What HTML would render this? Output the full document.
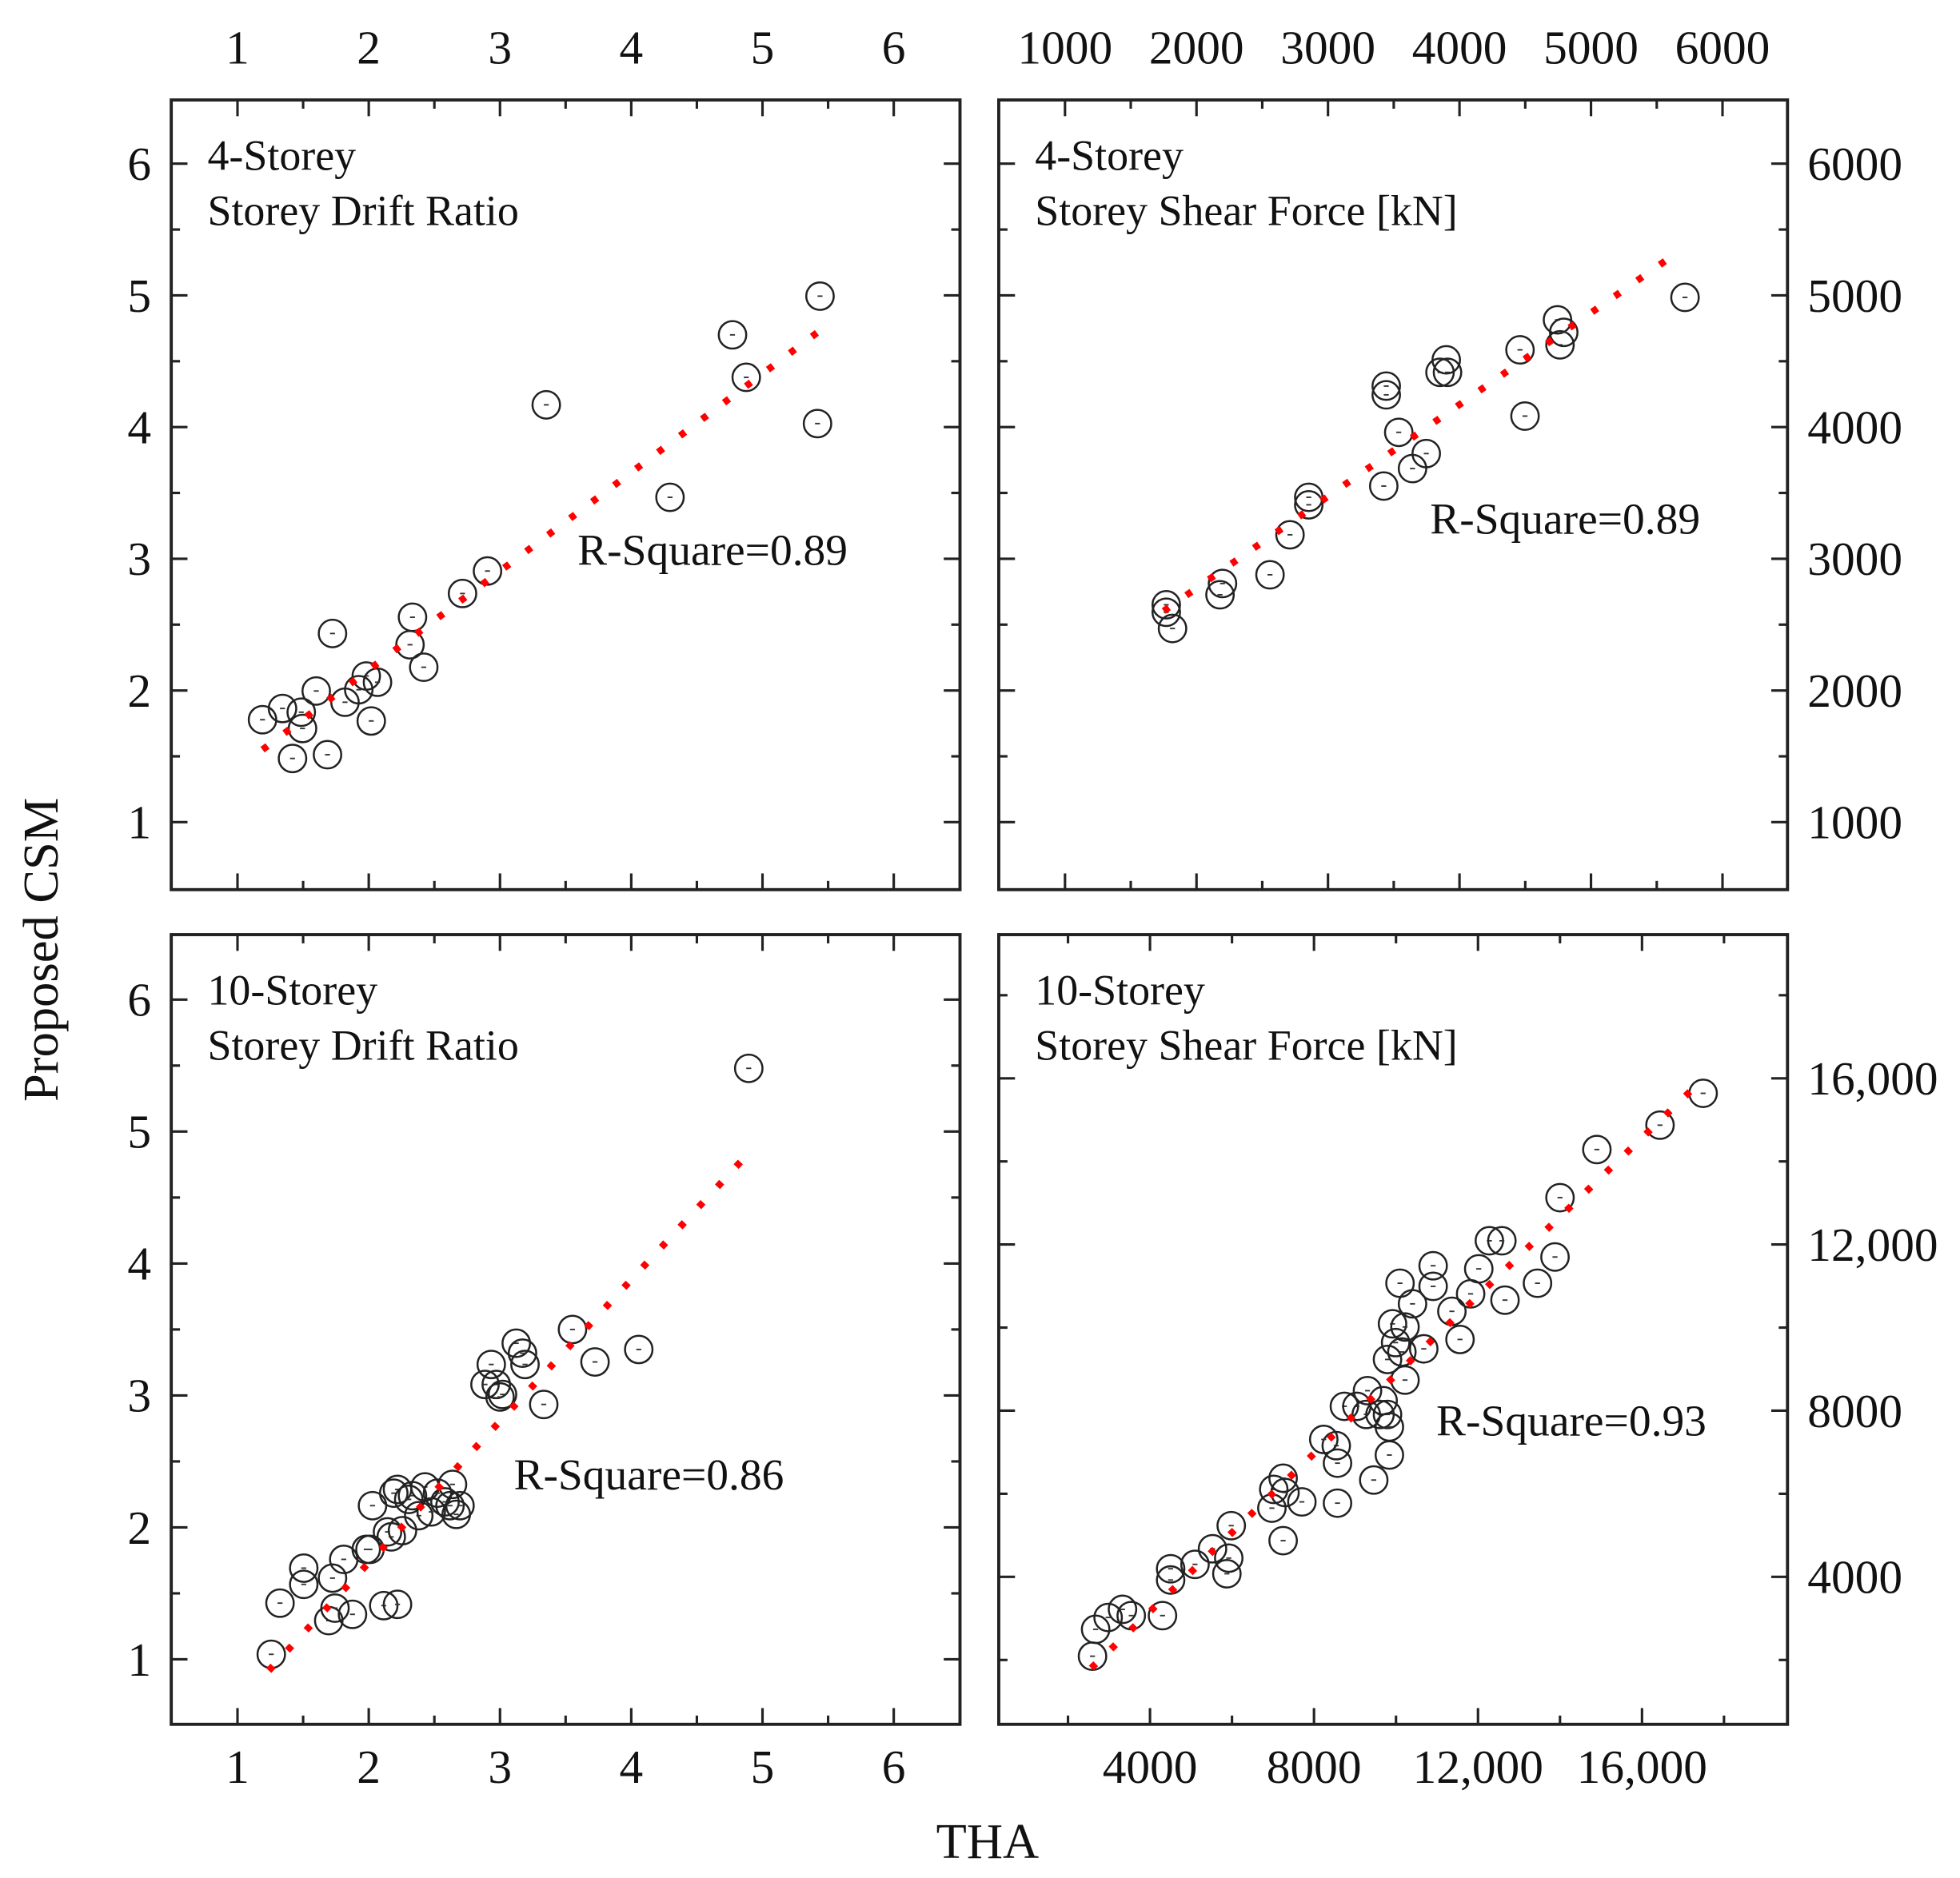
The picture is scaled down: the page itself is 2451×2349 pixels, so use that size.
<!DOCTYPE html>
<html><head><meta charset="utf-8"><style>
html,body{margin:0;padding:0;background:#fff;}
svg{display:block;}
text{font-family:"Liberation Serif",serif;fill:#111;}
</style></head><body>
<svg id="s" width="2451" height="2349" viewBox="0 0 1568 1503" preserveAspectRatio="none" xmlns="http://www.w3.org/2000/svg">
<g id="g"></g>
<text x="790" y="1487" font-size="40" text-anchor="middle">THA</text>
<text transform="translate(46,760) rotate(-90)" font-size="40" text-anchor="middle">Proposed CSM</text>
<text x="166" y="136" font-size="34.5">4-Storey</text>
<text x="166" y="180" font-size="34.5">Storey Drift Ratio</text>
<text x="462" y="452" font-size="35.5">R-Square=0.89</text>
<text x="828" y="136" font-size="34.5">4-Storey</text>
<text x="828" y="180" font-size="34.5">Storey Shear Force [kN]</text>
<text x="1144" y="427" font-size="35.5">R-Square=0.89</text>
<text x="166" y="804" font-size="34.5">10-Storey</text>
<text x="166" y="848" font-size="34.5">Storey Drift Ratio</text>
<text x="411" y="1192" font-size="35.5">R-Square=0.86</text>
<text x="828" y="804" font-size="34.5">10-Storey</text>
<text x="828" y="848" font-size="34.5">Storey Shear Force [kN]</text>
<text x="1149" y="1149" font-size="35.5">R-Square=0.93</text>
</svg>
<script>
var g=document.getElementById('g'),h='';
function L(x1,y1,x2,y2,c,w){h+='<line x1="'+x1+'" y1="'+y1+'" x2="'+x2+'" y2="'+y2+'" stroke="'+(c||'#222')+'" stroke-width="'+(w||2)+'"/>';}
function T(x,y,s,a){h+='<text x="'+x+'" y="'+y+'" font-size="38" text-anchor="'+(a||'middle')+'">'+s+'</text>';}
function panel(x0,x1,y0,y1,xt,yt,opt){
 h+='<rect x="'+x0+'" y="'+y0+'" width="'+(x1-x0)+'" height="'+(y1-y0)+'" fill="none" stroke="#222" stroke-width="2.5"/>';
 xt.forEach(function(t){var len=t[1]?13:7;L(t[0],y0,t[0],y0+len);L(t[0],y1,t[0],y1-len);
  if(t[2]){ if(opt.xtop)T(t[0],y0-29,t[2]); if(opt.xbot)T(t[0],y1+47,t[2]);}});
 yt.forEach(function(t){var len=t[1]?13:7;L(x0,t[0],x0+len,t[0]);L(x1,t[0],x1-len,t[0]);
  if(t[2]){ if(opt.yl)T(x0-16,t[0]+13,t[2],'end'); if(opt.yr)T(x1+16,t[0]+13,t[2],'start');}});
}
var xt=[],yt=[];
for(var v=1;v<=6.01;v+=0.5){var m=Math.abs(v-Math.round(v))<0.01;xt.push([190+(v-1)*105,m,m?String(v):'']);yt.push([658-(v-1)*105.4,m,m?String(v):'']);}
panel(137,768,80,712,xt,yt,{xtop:1,yl:1});
xt=[];yt=[];for(var v=1;v<=6.01;v+=0.5){var m=Math.abs(v-Math.round(v))<0.01;xt.push([852+(v-1)*105.2,m,m?String(v*1000):'']);yt.push([658-(v-1)*105.4,m,m?String(v*1000):'']);}
panel(799,1430,80,712,xt,yt,{xtop:1,yr:1});
xt=[];yt=[];for(var v=1;v<=6.01;v+=0.5){var m=Math.abs(v-Math.round(v))<0.01;xt.push([190+(v-1)*105,m,m?String(v):'']);yt.push([1328-(v-1)*105.6,m,m?String(v):'']);}
panel(137,768,748,1380,xt,yt,{xbot:1,yl:1});
xt=[];yt=[];var labs={4000:'4000',8000:'8000',12000:'12,000',16000:'16,000'};
for(var v=2000;v<=18000;v+=2000){xt.push([920+(v-4000)*0.0328,!!labs[v],labs[v]||'']);yt.push([1262-(v-4000)*0.03325,!!labs[v],labs[v]||'']);}
panel(799,1430,748,1380,xt,yt,{xbot:1,yr:1});
function C(p){p.forEach(function(q){h+='<circle cx="'+q[0]+'" cy="'+q[1]+'" r="11" fill="none" stroke="#222" stroke-width="1.6"/>';L(q[0]-2,q[1],q[0]+2,q[1],'#333',1.2);});}
function R(x1,y1,x2,y2){h+='<line x1="'+x1+'" y1="'+y1+'" x2="'+x2+'" y2="'+y2+'" stroke="#f00" stroke-width="5.5" stroke-dasharray="5 17"/>';}
C([[210,576],[226,567],[241,570],[242,583],[234,607],[262,604],[253,553],[266,507],[276,562],[287,552],[293,541],[302,546],[297,577],[330,494],[328,516],[339,534],[370,475],[390,457],[437,324],[536,398],[586,268],[597,302],[656,237],[654,339]]);
R(210,600,658,263);
C([[933,484],[933,490],[938,503],[976,476],[978,467],[1016,460],[1032,428],[1047,398],[1047,404],[1109,309],[1109,316],[1107,389],[1119,346],[1130,375],[1141,363],[1152,298],[1157,288],[1158,298],[1216,280],[1220,333],[1246,256],[1248,276],[1251,266],[1348,238]]);
R(931,489,1342,202);
C([[217,1324],[224,1283],[243,1255],[243,1268],[266,1263],[263,1297],[268,1287],[275,1248],[282,1292],[296,1240],[298,1205],[293,1240],[307,1285],[318,1284],[310,1226],[313,1230],[315,1195],[318,1192],[322,1225],[327,1200],[330,1197],[335,1213],[340,1190],[345,1210],[350,1195],[356,1202],[360,1205],[362,1188],[365,1212],[368,1205],[388,1108],[393,1092],[397,1108],[400,1118],[402,1116],[413,1075],[418,1083],[420,1092],[435,1124],[458,1064],[476,1090],[511,1080],[599,855]]);
R(215,1337,596,926);
var z=[[180,1147],[185,1104],[205,1085],[228,1072],[242,1082],[292,1082],[305,1025],[305,1007],[344,1000],[372,975],[398,990],[395,1015],[402,938],[467,910],[470,880],[485,862],[488,885],[485,962],[515,900],[572,902],[572,838],[570,810],[550,800],[583,747],[603,747],[620,722],[618,760],[640,760],[645,738],[652,760],[655,780],[655,825],[630,865],[652,672],[665,645],[660,615],[680,620],[680,705],[675,660],[672,550],[692,583],[710,655],[725,522],[725,555],[755,595],[768,640],[785,567],[798,527],[815,482],[835,482],[840,577],[892,550],[920,508],[928,413],[987,336],[1088,297],[1157,246]];
C(z.map(function(q){return [784+q[0]*0.5,752+q[1]*0.5];}));
R(873,1335,1362,864);
g.innerHTML=h;
</script>
</body></html>
